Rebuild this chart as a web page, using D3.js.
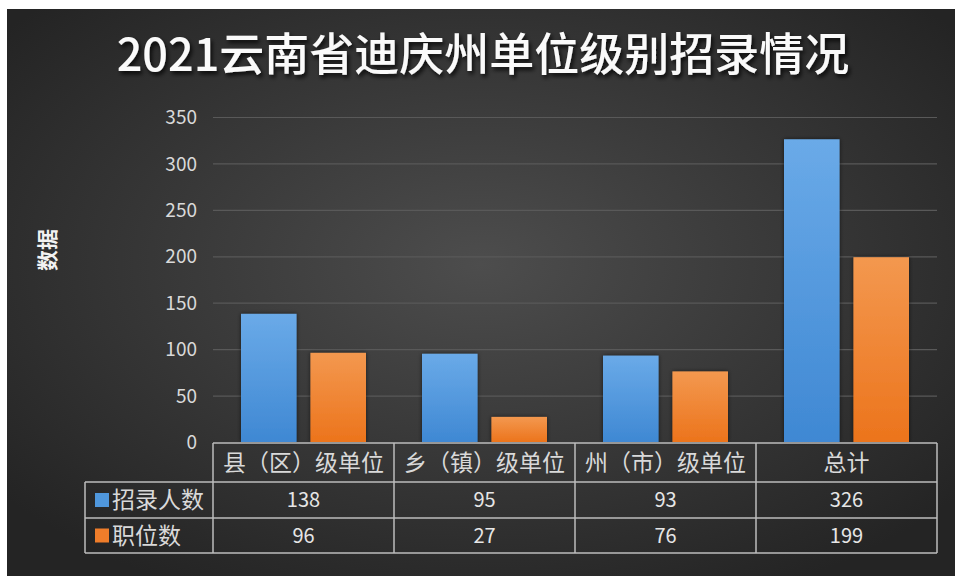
<!DOCTYPE html>
<html>
<head>
<meta charset="utf-8">
<script src="https://cdn.jsdelivr.net/npm/d3@7"></script>
<style>
  body { margin: 0; background: #fff; }
  text { font-family: "Noto Sans CJK SC", "Noto Sans", sans-serif; }
</style>
</head>
<body>
<div id="chart"></div>
<script>

var categories = ['县（区）级单位', '乡（镇）级单位', '州（市）级单位', '总计'];
var seriesNames = ['招录人数', '职位数'];
var hires = [138, 95, 93, 326];
var posts = [96, 27, 76, 199];
var yTicks = [0, 50, 100, 150, 200, 250, 300, 350];

var colors = ['#4f97dd', '#ef7d2a'];
var seriesValues = [hires, posts];

var width = 955, height = 576;
var plot = {left: 213, right: 937, top: 117, bottom: 442};
var rowTops = [443, 482, 518, 553];

var svg = d3.select('#chart').append('svg')
  .attr('width', width)
  .attr('height', height);

var defs = svg.append('defs');

var bg = defs.append('radialGradient')
  .attr('id', 'bg')
  .attr('cx', '50%').attr('cy', '45%').attr('r', '65%');
bg.append('stop').attr('offset', '0%').attr('stop-color', '#4d4d4d');
bg.append('stop').attr('offset', '100%').attr('stop-color', '#242424');

// bar gradients, lighter at the top
[['blueGrad', '#6aaae8', '#3f88d3'], ['orangeGrad', '#f3984f', '#ec741c']].forEach(function(g) {
  var lg = defs.append('linearGradient')
    .attr('id', g[0])
    .attr('x1', 0).attr('y1', 0).attr('x2', 0).attr('y2', 1);
  lg.append('stop').attr('offset', '0%').attr('stop-color', g[1]);
  lg.append('stop').attr('offset', '100%').attr('stop-color', g[2]);
});

var shadow = defs.append('filter').attr('id', 'shadow')
  .attr('x', '-10%').attr('y', '-20%').attr('width', '120%').attr('height', '150%');
shadow.append('feDropShadow')
  .attr('dx', 2).attr('dy', 3).attr('stdDeviation', 2)
  .attr('flood-color', '#000').attr('flood-opacity', 0.8);

var barShadow = defs.append('filter').attr('id', 'barShadow')
  .attr('x', '-20%').attr('y', '-20%').attr('width', '140%').attr('height', '140%');
barShadow.append('feDropShadow')
  .attr('dx', 0).attr('dy', 0).attr('stdDeviation', 2)
  .attr('flood-color', '#000').attr('flood-opacity', 0.6);

svg.append('rect')
  .attr('x', 7).attr('y', 9)
  .attr('width', width - 7).attr('height', height - 9)
  .attr('fill', 'url(#bg)');

// title
svg.append('text')
  .attr('x', 483).attr('y', 71)
  .attr('text-anchor', 'middle')
  .attr('font-size', 45)
  .attr('font-weight', 500)
  .attr('fill', '#fafafa')
  .attr('filter', 'url(#shadow)')
  .text('2021云南省迪庆州单位级别招录情况');

var x0 = d3.scaleBand()
  .domain(categories)
  .range([plot.left, plot.right]);

var x1 = d3.scaleBand()
  .domain(seriesNames)
  .range([28, x0.bandwidth() - 28])
  .paddingInner(0.2);

var yScale = d3.scaleLinear()
  .domain([0, 350])
  .range([plot.bottom, plot.top]);

// gridlines + tick labels
var yAxis = d3.axisLeft(yScale)
  .tickValues(yTicks)
  .tickSize(-(plot.right - plot.left))
  .tickPadding(16);

var yG = svg.append('g')
  .attr('class', 'y axis')
  .attr('transform', 'translate(' + plot.left + ',0)')
  .call(yAxis);

yG.select('.domain').remove();
yG.selectAll('.tick line')
  .attr('stroke', '#595959')
  .attr('stroke-width', 1.2);
yG.selectAll('.tick text')
  .attr('fill', '#d9d9d9')
  .attr('font-size', 19)
  .attr('font-family', '"Liberation Sans Narrow", "Noto Sans", sans-serif')
  .attr('dy', '0.35em');
yG.selectAll('.tick').filter(function(d) { return d === 0; }).select('line').remove();

svg.append('text')
  .attr('transform', 'translate(55,250) rotate(-90)')
  .attr('text-anchor', 'middle')
  .attr('font-size', 21)
  .attr('font-weight', 'bold')
  .attr('fill', '#f2f2f2')
  .text('数据');

// bars
var groups = svg.selectAll('.group')
  .data(categories)
  .enter().append('g')
  .attr('class', 'group')
  .attr('transform', function(d) { return 'translate(' + x0(d) + ',0)'; });

groups.selectAll('.bar')
  .data(function(d, i) {
    return seriesNames.map(function(s, j) { return {series: s, value: seriesValues[j][i], idx: j}; });
  })
  .enter().append('rect')
  .attr('class', 'bar')
  .attr('x', function(d) { return x1(d.series); })
  .attr('width', x1.bandwidth())
  .attr('y', function(d) { return yScale(d.value); })
  .attr('height', function(d) { return yScale(0) - yScale(d.value); })
  .attr('fill', function(d) { return d.idx === 0 ? 'url(#blueGrad)' : 'url(#orangeGrad)'; })
  .attr('filter', 'url(#barShadow)');

// data table
var table = svg.append('g').attr('class', 'table');
var lineColor = '#bdbdbd';
var labelLeft = 85;

// horizontal lines
table.append('line')
  .attr('x1', plot.left).attr('x2', plot.right)
  .attr('y1', rowTops[0]).attr('y2', rowTops[0]);
[1, 2, 3].forEach(function(r) {
  table.append('line')
    .attr('x1', labelLeft).attr('x2', plot.right)
    .attr('y1', rowTops[r]).attr('y2', rowTops[r]);
});
// vertical lines
table.append('line')
  .attr('x1', labelLeft).attr('x2', labelLeft)
  .attr('y1', rowTops[1]).attr('y2', rowTops[3]);
categories.forEach(function(c) {
  table.append('line')
    .attr('x1', x0(c)).attr('x2', x0(c))
    .attr('y1', rowTops[0]).attr('y2', rowTops[3]);
});
table.append('line')
  .attr('x1', plot.right).attr('x2', plot.right)
  .attr('y1', rowTops[0]).attr('y2', rowTops[3]);
table.selectAll('line')
  .attr('stroke', lineColor)
  .attr('stroke-width', 1.5);

// header
table.selectAll('.head')
  .data(categories)
  .enter().append('text')
  .attr('class', 'head')
  .attr('x', function(d) { return x0(d) + x0.bandwidth() / 2; })
  .attr('y', (rowTops[0] + rowTops[1]) / 2)
  .attr('dy', '0.35em')
  .attr('text-anchor', 'middle')
  .attr('font-size', 23)
  .attr('fill', '#d9d9d9')
  .text(function(d) { return d; });

// rows
seriesNames.forEach(function(s, j) {
  var yMid = (rowTops[j + 1] + rowTops[j + 2]) / 2;
  table.append('rect')
    .attr('x', 95).attr('y', yMid - 7)
    .attr('width', 14).attr('height', 14)
    .attr('fill', colors[j]);
  table.append('text')
    .attr('x', 112).attr('y', yMid)
    .attr('dy', '0.35em')
    .attr('font-size', 23)
    .attr('fill', '#d9d9d9')
    .text(s);
  table.selectAll('.val' + j)
    .data(seriesValues[j])
    .enter().append('text')
    .attr('class', 'val' + j)
    .attr('x', function(d, i) { return x0(categories[i]) + x0.bandwidth() / 2; })
    .attr('y', yMid)
    .attr('dy', '0.35em')
    .attr('text-anchor', 'middle')
    .attr('font-size', 20)
    .attr('fill', '#e6e6e6')
    .text(function(d) { return d; });
});

</script>
</body>
</html>
